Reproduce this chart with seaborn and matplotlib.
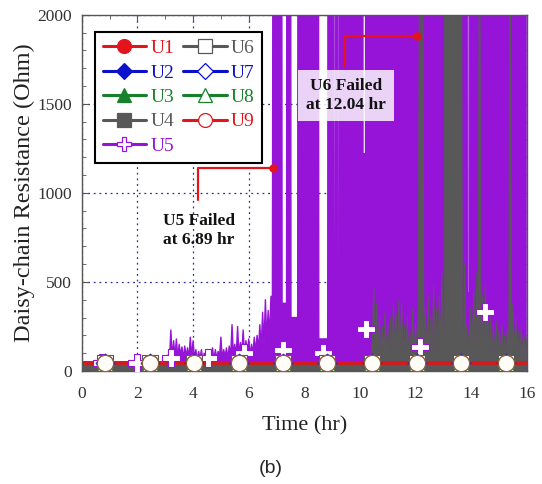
import matplotlib
matplotlib.use("Agg")
import matplotlib.pyplot as plt
from matplotlib.lines import Line2D
from matplotlib.ticker import MultipleLocator
import seaborn as sns

# --- data (time in hr, resistance in Ohm) ---
u5_t = [0.0, 3.0,
        3.1, 3.15, 3.2, 3.25, 3.3, 3.35, 3.4, 3.45, 3.5, 3.55,
        3.6, 3.65, 3.7, 3.75, 3.8, 3.85, 3.9, 3.95, 4.0, 4.05,
        4.1, 4.15, 4.2, 4.25, 4.3, 4.35, 4.4, 4.45, 4.5, 4.55,
        4.6, 4.65, 4.7, 4.75, 4.8, 4.85, 4.9, 4.95, 5.0, 5.05,
        5.1, 5.15, 5.2, 5.25, 5.3, 5.35, 5.4, 5.45, 5.5, 5.55,
        5.6, 5.65, 5.7, 5.75, 5.8, 5.85, 5.9, 5.95, 6.0, 6.05,
        6.1, 6.15, 6.2, 6.25, 6.3, 6.35, 6.4, 6.45, 6.5, 6.55,
        6.6, 6.65, 6.7, 6.75, 6.8, 6.85,
        6.89, 7.18, 7.2, 7.36, 7.38, 7.5, 7.52, 7.76, 7.78, 8.5,
        8.52, 8.84, 8.86, 9.04, 9.05, 9.1, 9.12, 9.2, 9.21, 9.26,
        9.27, 10.1, 10.11, 10.2, 10.21, 13.0, 13.01, 13.04, 13.05, 13.85,
        13.86, 13.92, 13.93, 16.0]
u5_v = [45, 45,
        90, 60, 230, 70, 170, 80, 180, 70, 150, 90,
        135, 70, 140, 80, 130, 70, 190, 80, 170, 70,
        120, 60, 110, 70, 120, 60, 100, 70, 120, 60,
        110, 70, 130, 60, 120, 70, 110, 80, 190, 70,
        120, 80, 130, 70, 140, 80, 260, 90, 150, 80,
        250, 90, 160, 100, 230, 90, 170, 100, 180, 90,
        150, 100, 190, 110, 200, 120, 260, 130, 330, 150,
        400, 180, 340, 200, 420, 250,
        5000, 5000, 380, 380, 5000, 5000, 300, 300, 5000, 5000,
        180, 180, 5000, 5000, 650, 650, 5000, 5000, 580, 580,
        5000, 5000, 1220, 1220, 5000, 5000, 750, 750, 5000, 5000,
        440, 440, 5000, 5000]

u4_t = [0.0, 10.4,
        10.45, 10.5, 10.55, 10.6, 10.65, 10.7, 10.75, 10.8, 10.85, 10.9,
        10.95, 11.0, 11.05, 11.1, 11.15, 11.2, 11.25, 11.3, 11.35, 11.4,
        11.45, 11.5, 11.55, 11.6, 11.65, 11.7, 11.75, 11.8, 11.85, 11.9,
        11.95, 12.0, 12.05, 12.1, 12.15, 12.2, 12.25,
        12.3, 12.35, 12.4, 12.45, 12.5, 12.55, 12.6, 12.65, 12.7, 12.75,
        12.8, 12.85, 12.9, 12.95, 13.0, 13.03, 13.05, 13.65, 13.68, 13.72,
        13.76, 13.8, 13.84, 13.88, 13.92, 13.97, 14.02,
        14.05, 14.1, 14.15, 14.2, 14.25, 14.3, 14.35, 14.4, 14.45, 14.5,
        14.55, 14.6, 14.65, 14.7, 14.75, 14.8, 14.85, 14.9, 14.95, 15.0,
        15.05, 15.1, 15.15, 15.2, 15.25, 15.3, 15.35, 15.4, 15.45, 15.5,
        15.55, 15.6, 15.65, 15.7, 15.75, 15.8, 15.85, 15.9, 15.95, 16.0]
u4_v = [45, 45,
        200, 470, 150, 380, 120, 300, 80, 250, 120, 330,
        100, 260, 90, 300, 110, 380, 130, 320, 120, 400,
        150, 380, 100, 250, 90, 300, 110, 220, 80, 350,
        100, 260, 120, 400, 3000, 200, 3000,
        150, 350, 100, 420, 120, 300, 100, 480, 130, 350,
        110, 420, 150, 550, 200, 200, 3000, 3000, 300, 150,
        600, 200, 250, 150, 200, 350, 150,
        250, 450, 150, 550, 160, 3000, 200, 420, 130, 480,
        160, 330, 110, 300, 100, 260, 90, 280, 80, 230,
        90, 260, 100, 200, 80, 240, 100, 3000, 150, 380,
        120, 300, 90, 220, 80, 250, 100, 200, 90, 180]

base_t = [0.0, 16.0]
base_v = [45, 45]

mark_t = [0.83, 2.44, 4.05, 5.64, 7.22, 8.83, 10.44, 12.05, 13.64, 15.25]
mark_v = [45] * 10

u5_mark_t = [0.72, 1.97, 3.22, 4.55, 5.84, 7.23, 8.66, 10.2, 12.17, 14.5]
u5_mark_v = [45, 45, 73, 73, 100, 118, 100, 235, 135, 330]

labels = ["U1", "U2", "U3", "U4", "U5", "U6", "U7", "U8", "U9"]

RED = "#e3151c"
BLUE = "#0a10cc"
GREEN = "#17802a"
GRAY = "#585858"
PURPLE = "#9614d8"

sns.set_style("ticks")
plt.rcParams["font.family"] = ["Liberation Serif", "DejaVu Serif"]

fig = plt.figure(figsize=(5.42, 4.84), dpi=100)
ax = fig.add_axes([0.151, 0.2335, 0.821, 0.736])

# noisy traces: U5 then U4 on top
ax.fill_between(u5_t, 0, u5_v, color=PURPLE, lw=0, zorder=1.5)
sns.lineplot(x=u5_t, y=u5_v, color=PURPLE, lw=1.0, ax=ax, estimator=None, zorder=1.6)
ax.fill_between(u4_t, 0, u4_v, color=GRAY, lw=0, zorder=1.7)
sns.lineplot(x=u4_t, y=u4_v, color=GRAY, lw=0.7, ax=ax, estimator=None, zorder=1.8)

# healthy baselines
for c in [GRAY, BLUE, GREEN, BLUE, GREEN, RED]:
    sns.lineplot(x=base_t, y=base_v, color=c, lw=2.6, ax=ax, estimator=None, zorder=2)

# hollow markers
sns.scatterplot(x=u5_mark_t, y=u5_mark_v, marker="P", s=150, color="white",
                edgecolor=PURPLE, linewidth=0.8, ax=ax, zorder=3)
sns.scatterplot(x=mark_t, y=mark_v, marker="s", s=120, color="white",
                edgecolor=GRAY, linewidth=0.8, ax=ax, zorder=3.1)
sns.scatterplot(x=mark_t, y=mark_v, marker="D", s=90, color="white",
                edgecolor=BLUE, linewidth=0.8, ax=ax, zorder=3.2)
sns.scatterplot(x=mark_t, y=mark_v, marker="^", s=130, color="white",
                edgecolor=GREEN, linewidth=0.8, ax=ax, zorder=3.3)
sns.scatterplot(x=mark_t, y=mark_v, marker="o", s=140, color="#fffdf8",
                edgecolor="#8a6040", linewidth=1.0, ax=ax, zorder=3.4)

# failure annotations
ax.plot([4.19, 4.19, 6.89], [960, 1137, 1137], color=RED, lw=1.6, zorder=4)
ax.plot([6.89], [1137], "o", color=RED, ms=5, zorder=4)
ax.text(4.2, 790, "U5 Failed\nat 6.89 hr", ha="center", va="center",
        fontsize=12.5, fontweight="bold", color="#111111", linespacing=1.25, zorder=5)

ax.plot([9.48, 9.48, 12.04], [1714, 1882, 1882], color=RED, lw=1.6, zorder=4)
ax.plot([12.04], [1882], "o", color=RED, ms=5, zorder=4)
ax.text(9.5, 1545, "U6 Failed\nat 12.04 hr", ha="center", va="center",
        fontsize=12.5, fontweight="bold", color="#111111", linespacing=1.25, zorder=5,
        bbox=dict(boxstyle="square,pad=0.45", fc="white", ec="none", alpha=0.82))

ax.set_xlim(0, 16)
ax.set_ylim(0, 2000)
ax.xaxis.set_major_locator(MultipleLocator(2))
ax.xaxis.set_minor_locator(MultipleLocator(1))
ax.yaxis.set_major_locator(MultipleLocator(500))
ax.yaxis.set_minor_locator(MultipleLocator(100))
ax.tick_params(which="both", direction="in", top=True, right=True,
               colors="#555555", labelcolor="#333333", labelsize=12.5)
ax.tick_params(which="major", length=5)
ax.tick_params(which="minor", length=3)
ax.tick_params(axis="x", which="major", pad=11)
ax.tick_params(axis="y", which="major", pad=7)
ax.grid(True, which="major", ls=(0, (1.5, 3)), color="#30309a", lw=0.9)
ax.set_axisbelow(True)
for s in ax.spines.values():
    s.set_color("#555555")
    s.set_linewidth(1.0)

ax.set_xlabel("Time (hr)", fontsize=16, color="#222222", labelpad=10)
ax.set_ylabel("Daisy-chain Resistance (Ohm)", fontsize=17.5, color="#222222", labelpad=2)

# legend
styles = [
    (RED, "o", RED), (BLUE, "D", BLUE), (GREEN, "^", GREEN), (GRAY, "s", GRAY),
    (PURPLE, "P", "white"), (GRAY, "s", "white"), (BLUE, "D", "white"),
    (GREEN, "^", "white"), (RED, "o", "white"),
]
handles = []
for (c, m, fc), lab in zip(styles, labels):
    ms = 8 if m == "D" else 10
    handles.append(Line2D([], [], color=c, marker=m, mfc=fc, mec=c, ms=ms,
                          lw=2.2, mew=0.9, label=lab))
leg = ax.legend(handles=handles, ncol=2, loc="upper left",
                bbox_to_anchor=(0.029, 0.952), borderaxespad=0,
                fontsize=14, handlelength=2.25, handletextpad=0.2,
                columnspacing=0.45, labelspacing=0.35, frameon=True,
                fancybox=False, edgecolor="black", framealpha=1)
leg.get_frame().set_linewidth(1.5)
leg.set_zorder(6)
for txt, (c, _, _) in zip(leg.get_texts(), styles):
    txt.set_color(c)

fig.text(0.5, 0.033, "(b)", ha="center", va="center", fontsize=14,
         family=["Liberation Sans", "DejaVu Sans"])

fig.savefig("out.png", dpi=100)
